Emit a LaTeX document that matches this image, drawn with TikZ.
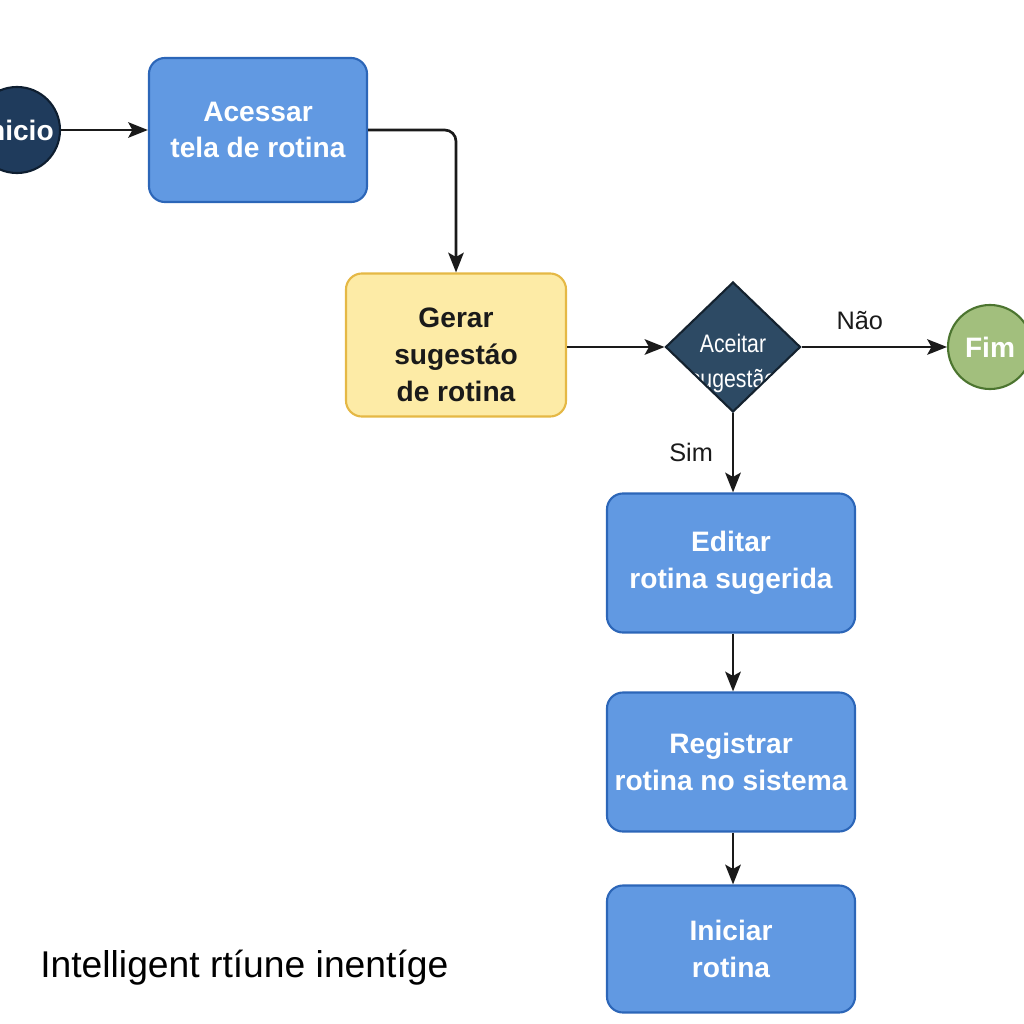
\documentclass[tikz,border=0pt]{standalone}
\usepackage{fontspec}
\setmainfont{Liberation Sans}
\newfontfamily\narrowfont[FakeStretch=0.84]{Liberation Sans}
\definecolor{boxblue}{HTML}{6199E2}
\definecolor{edgeblue}{HTML}{2C66B8}
\definecolor{boxyellow}{HTML}{FDEBA6}
\definecolor{edgeyellow}{HTML}{E5B845}
\definecolor{navy}{HTML}{1F3B5C}
\definecolor{edgenavy}{HTML}{0E1E30}
\definecolor{slate}{HTML}{2D4A64}
\definecolor{edgeslate}{HTML}{14222F}
\definecolor{boxgreen}{HTML}{A2BF7D}
\definecolor{edgegreen}{HTML}{4C7530}
\definecolor{arrowc}{HTML}{1A1A1A}
\usetikzlibrary{positioning, arrows.meta, shapes.geometric}
\tikzstyle{process} = [draw=edgeblue, line width=1.5pt, rectangle, rounded corners=0.4cm, fill=boxblue, text=white, align=center, font=\fontsize{20}{26}\selectfont\bfseries]
\tikzstyle{terminal} = [circle, line width=1.5pt, inner sep=0pt, text=white, font=\fontsize{20}{24}\selectfont\bfseries]
\tikzstyle{decision} = [diamond, draw=edgeslate, fill=slate, line width=1.5pt, inner sep=0pt, minimum width=3.375cm, minimum height=3.25cm]
\tikzstyle{arr} = [draw=arrowc, line width=1.9pt, -{Stealth[length=14pt, width=11pt, inset=3pt]}]
\tikzstyle{lbl} = [text=arrowc, font=\fontsize{18}{20}\selectfont]

\begin{document}
\begin{tikzpicture}[x=0.025cm, y=-0.025cm]
	\useasboundingbox (0,0) rectangle (1024,1024);
	%diagram
	\node[terminal, draw=edgenavy, fill=navy, minimum size=2.15cm] (start) at (17,130) {Inicio};
	\node[process, minimum width=5.45cm, minimum height=3.6cm] (access) at (258,130) {Acessar\\ tela de rotina};
	\node[process, draw=edgeyellow, fill=boxyellow, minimum width=5.5cm, minimum height=3.575cm, label={[text=arrowc, align=center, font=\fontsize{20}{26}\selectfont\bfseries, yshift=-7pt]center:Gerar\\ sugestáo\\ de rotina}] (generate) at (456,345) {};
	\node[decision, path picture={\node[text=white, align=center, font=\narrowfont\fontsize{18}{25}\selectfont] at ([yshift=-12pt]path picture bounding box.center) {Aceitar\\ sugestão};}] (accept) at (733,347) {};
	\node[terminal, draw=edgegreen, fill=boxgreen, minimum size=2.1cm] (finish) at (990,347) {Fim};
	\node[process, minimum width=6.2cm, minimum height=3.475cm] (edit) at (731,563) {Editar\\ rotina sugerida};
	\node[process, minimum width=6.2cm, minimum height=3.475cm] (register) at (731,762) {Registrar\\ rotina no sistema};
	\node[process, minimum width=6.2cm, minimum height=3.175cm] (begin) at (731,949) {Iniciar\\ rotina};

	%connectors
	\draw[arr] (start) -- (access);
	\draw[arr, rounded corners=8pt] (access.east) -| (generate.north);
	\draw[arr] (generate.east |- accept.west) -- (accept.west);
	\draw[arr] (accept.east) -- node[lbl, pos=0.4, above=8pt] {Não} (finish.west);
	\draw[arr] (accept.south) -- node[lbl, midway, left=10pt] {Sim} (accept.south |- edit.north);
	\draw[arr] (accept.south |- edit.south) -- (accept.south |- register.north);
	\draw[arr] (accept.south |- register.south) -- (accept.south |- begin.north);

	%title
	\node[anchor=base west, inner sep=0pt, font=\fontsize{26.5}{30}\selectfont] (title) at (40,977) {Intelligent rtíune inentíge};
\end{tikzpicture}
\end{document}
